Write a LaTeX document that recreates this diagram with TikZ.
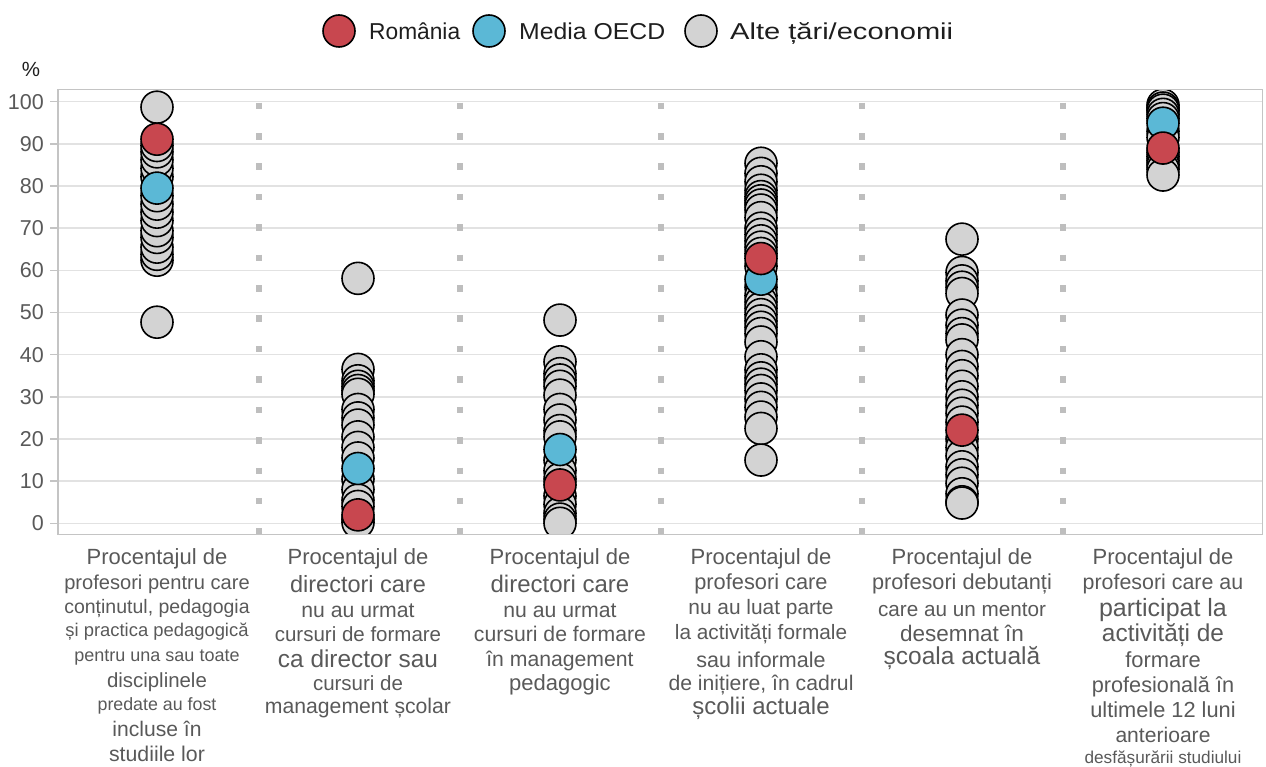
\documentclass[tikz,border=0pt]{standalone}
\usepackage{fontspec}
\setmainfont{Liberation Sans}
\usepackage{graphicx}
\definecolor{rored}{HTML}{C8474F}
\definecolor{oecdblue}{HTML}{5BB8D6}
\definecolor{dotgray}{HTML}{D3D3D3}
\definecolor{labgray}{HTML}{595959}
\definecolor{gridgray}{HTML}{E2E2E2}
\definecolor{framegray}{HTML}{C4C4C4}
\definecolor{sepgray}{HTML}{BEBEBE}
\definecolor{legtext}{HTML}{1E1E1E}
\newcommand\Yv[1]{523.3-4.216*#1}
\newcommand\dotcol[3]{\foreach \v in {#3} \draw[dotstyle, fill=#2] (#1,{\Yv{\v}}) circle (16pt);}
\newcommand\lbl[5]{\node[labstyle, font=\fontsize{#4}{#4}\selectfont] (#1) at (#2,{#3+0.36*#4}) {#5};}
\begin{document}
\begin{tikzpicture}[x=1pt,y=-1pt,
  dotstyle/.style={draw=black, line width=1.6pt},
  gridline/.style={draw=gridgray, line width=1.4pt},
  tickmark/.style={draw=framegray, line width=1.4pt},
  ticklab/.style={text=labgray, font=\fontsize{21.5}{21.5}\selectfont, anchor=east, inner sep=0pt},
  sepline/.style={draw=sepgray, line width=6pt, dash pattern=on 6.5pt off 23.9pt},
  labstyle/.style={text=labgray, anchor=base, inner sep=0pt},
  legstyle/.style={text=legtext, font=\fontsize{23}{23}\selectfont, anchor=base west, inner sep=0pt}]
\useasboundingbox (0,0) rectangle (1266,767);
% grid
\foreach \v in {0,10,...,100}{
  \draw[gridline] (58,{\Yv{\v}}) -- (1262,{\Yv{\v}});
  \draw[tickmark] (50,{\Yv{\v}}) -- (58,{\Yv{\v}});
  \node[ticklab] (t\v) at (44,{\Yv{\v}}) {\v};
}
\node[text=legtext, font=\fontsize{20.5}{20.5}\selectfont, inner sep=0pt] (pct) at (31,69) {\%};
% separators
\foreach \x in {258.5,459.5,660.5,861.5,1062.5}
  \draw[sepline] (\x,102.7) -- (\x,535);
% dots
\begin{scope}
\clip (58,89.5) rectangle (1262.5,534.5);
\dotcol{157}{dotgray}{98.7,47.7,62.4,63.8,65.5,67.8,69.4,71.8,73.8,75.7,77.7,82.2,84.2,86.2,88.1,89.6}
\dotcol{157}{oecdblue}{79.5}
\dotcol{157}{rored}{91.1}
\dotcol{358}{dotgray}{58.1,36.5,33.8,32.5,31.5,30.6,27,25,23.3,20.5,18,15.5,10.5,8,5.5,4,1,0.2}
\dotcol{358}{oecdblue}{13.0}
\dotcol{358}{rored}{2.0}
\dotcol{560}{dotgray}{48.2,38.3,35.5,34,32.5,30.4,27,24.5,22,20.5,15,12.5,10.5,6.5,4.5,2.4,1,0}
\dotcol{560}{oecdblue}{17.5}
\dotcol{560}{rored}{9.1}
\dotcol{761}{dotgray}{85.4,83,81,79,77.5,76.5,75.5,74.3,72.5,70,68.5,67,65.5,64,61,56,54,52.5,51,49.5,48,46.5,45,43,39.5,36.4,34.5,33,31.5,29.5,27.5,25.2,22.5,15.0}
\dotcol{761}{oecdblue}{57.9}
\dotcol{761}{rored}{62.8}
\dotcol{962}{dotgray}{67.4,59.5,57.5,56,54.5,49.4,47,45,43.5,40,37.2,35,32.5,30,28,26.1,24,20,18,16,13.4,11.5,9.5,7,5.1,4.8}
\dotcol{962}{rored}{22.1}
\dotcol{1163}{dotgray}{99.2,98.5,98,97,96,93,91.5,88,87,86,85,84,82.6}
\dotcol{1163}{oecdblue}{94.9}
\dotcol{1163}{rored}{89.0}
\end{scope}
% frame
\draw[draw=framegray, line width=1.5pt] (58,89.5) rectangle (1262.5,534.5);
% legend
\draw[dotstyle, fill=rored] (339,31) circle (16pt);
\draw[dotstyle, fill=oecdblue] (489,31) circle (16pt);
\draw[dotstyle, fill=dotgray] (701,31) circle (16pt);
\node[legstyle] (lg1) at (369,39.3) {\resizebox{91pt}{\height}{România}};
\node[legstyle] (lg2) at (519,39.3) {\resizebox{146pt}{\height}{Media OECD}};
\node[legstyle] (lg3) at (730,39.3) {\resizebox{223pt}{\height}{Alte țări/economii}};
% category labels
\lbl{a1}{157}{557}{22}{Procentajul de}
\lbl{a2}{157}{582}{20.1}{profesori pentru care}
\lbl{a3}{157}{606}{19.5}{conținutul, pedagogia}
\lbl{a4}{157}{630}{18.4}{și practica pedagogică}
\lbl{a5}{157}{655}{18}{pentru una sau toate}
\lbl{a6}{157}{680}{20.4}{disciplinele}
\lbl{a7}{157}{704}{17.8}{predate au fost}
\lbl{a8}{157}{729}{21.1}{incluse în}
\lbl{a9}{157}{754}{21.3}{studiile lor}
\lbl{b1}{358}{557}{22}{Procentajul de}
\lbl{b2}{358}{584}{23.5}{directori care}
\lbl{b3}{358}{610}{21.2}{nu au urmat}
\lbl{b4}{358}{634}{20.5}{cursuri de formare}
\lbl{b5}{358}{659}{24.4}{ca director sau}
\lbl{b6}{358}{683}{20.5}{cursuri de}
\lbl{b7}{358}{706}{21.2}{management școlar}
\lbl{c1}{560}{557}{22}{Procentajul de}
\lbl{c2}{560}{584}{24}{directori care}
\lbl{c3}{560}{610}{21.2}{nu au urmat}
\lbl{c4}{560}{634}{21.2}{cursuri de formare}
\lbl{c5}{560}{659}{21.2}{în management}
\lbl{c6}{560}{683}{22}{pedagogic}
\lbl{d1}{761}{557}{22}{Procentajul de}
\lbl{d2}{761}{582}{21.8}{profesori care}
\lbl{d3}{761}{607}{20.9}{nu au luat parte}
\lbl{d4}{761}{632}{20.8}{la activități formale}
\lbl{d5}{761}{660}{21.5}{sau informale}
\lbl{d6}{761}{683}{21.2}{de inițiere, în cadrul}
\lbl{d7}{761}{706}{24}{școlii actuale}
\lbl{e1}{962}{557}{22}{Procentajul de}
\lbl{e2}{962}{582}{21.7}{profesori debutanți}
\lbl{e3}{962}{609}{20.7}{care au un mentor}
\lbl{e4}{962}{633}{22.5}{desemnat în}
\lbl{e5}{962}{656}{24.5}{școala actuală}
\lbl{f1}{1163}{557}{22}{Procentajul de}
\lbl{f2}{1163}{582}{21.4}{profesori care au}
\lbl{f3}{1163}{607}{25}{participat la}
\lbl{f4}{1163}{633}{24.4}{activități de}
\lbl{f5}{1163}{660}{21.9}{formare}
\lbl{f6}{1163}{685}{21.7}{profesională în}
\lbl{f7}{1163}{710}{21.8}{ultimele 12 luni}
\lbl{f8}{1163}{735}{21.1}{anterioare}
\lbl{f9}{1163}{757}{17.2}{desfășurării studiului}
\end{tikzpicture}
\end{document}
